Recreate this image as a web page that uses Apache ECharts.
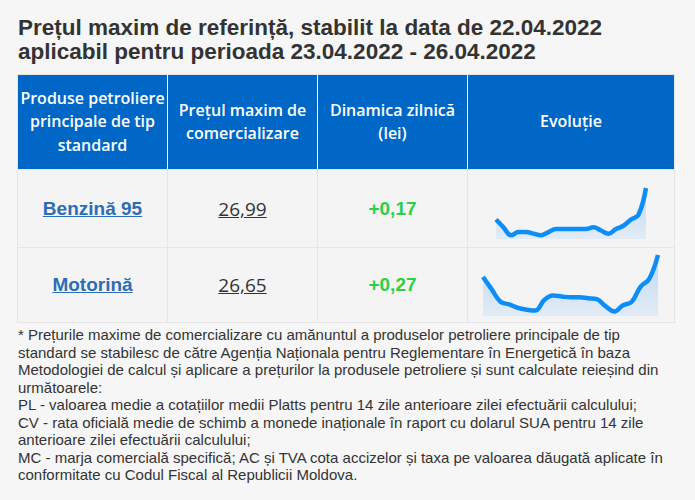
<!DOCTYPE html>
<html>
<head>
<meta charset="utf-8">
<script src="https://cdn.jsdelivr.net/npm/echarts@6/dist/echarts.min.js"></script>
<style>
  html, body { margin: 0; padding: 0; background: #f6f6f6; }
  body { width: 695px; height: 500px; position: relative; overflow: hidden; font-family: "Liberation Sans", Arial, sans-serif; color: #333; }
  h1 { position: absolute; left: 18px; top: 16px; margin: 0; font-size: 22.5px; line-height: 24px; font-weight: bold; color: #333; }
  table { position: absolute; left: 17px; top: 74px; border-collapse: collapse; table-layout: fixed; }
  th { background: #0067c7; color: #fff; font-family: "Open Sans", sans-serif; font-weight: 600; font-size: 16px; line-height: 23.5px; height: 94px; padding: 0 2px; border: 1px solid #e6e6e6; border-left-color: #fff; border-right-color: #fff; text-align: center; vertical-align: middle; }
  th:first-child { border-left-color: #e6e6e6; }
  th:last-child { border-right-color: #e6e6e6; }
  td { background: #f4f4f4; border: 1px solid #e6e6e6; text-align: center; vertical-align: middle; padding: 0; }
  .name { font-family: "Liberation Sans", Arial, sans-serif; font-weight: bold; font-size: 19px; color: #2d6db5; text-decoration: underline; }
  .price { font-family: "Open Sans", sans-serif; font-size: 19px; color: #333; text-decoration: underline; }
  .delta { font-family: "Liberation Sans", Arial, sans-serif; font-weight: bold; font-size: 19px; color: #2bcf45; }
  .note { position: absolute; left: 18px; top: 326px; width: 660px; font-size: 15px; line-height: 17.5px; color: #333; }
  .spark { position: absolute; }
</style>
</head>
<body>
<h1>Prețul maxim de referință, stabilit la data de 22.04.2022<br>aplicabil pentru perioada 23.04.2022 - 26.04.2022</h1>
<table id="tbl">
  <tr>
    <th style="width:145px">Produse petroliere principale de tip standard</th>
    <th style="width:145px">Prețul maxim de comercializare</th>
    <th style="width:145px">Dinamica zilnică (lei)</th>
    <th style="width:202px">Evoluție</th>
  </tr>
</table>
<div class="note">* Prețurile maxime de comercializare cu amănuntul a produselor petroliere principale de tip standard se stabilesc de către Agenția Naționala pentru Reglementare în Energetică în baza Metodologiei de calcul și aplicare a prețurilor la produsele petroliere și sunt calculate reieșind din următoarele:<br>PL - valoarea medie a cotațiilor medii Platts pentru 14 zile anterioare zilei efectuării calculului;<br>CV - rata oficială medie de schimb a monede inaționale în raport cu dolarul SUA pentru 14 zile anterioare zilei efectuării calculului;<br>MC - marja comercială specifică; AC și TVA cota accizelor și taxa pe valoarea dăugată aplicate în conformitate cu Codul Fiscal al Republicii Moldova.</div>
<div id="spark0" class="spark" style="left:492px; top:184px; width:158px; height:57px"></div>
<div id="spark1" class="spark" style="left:479px; top:251px; width:183px; height:67px"></div>
<script>
// products shown in the table
const products = ["Benzină 95", "Motorină"];
const maxPrices = ["26,99", "26,65"];
const dailyChange = ["+0,17", "+0,27"];
const rowHeights = [78, 75];

// price evolution for the sparklines (lei)
const benzinaHistory = [26.79, 26.74, 26.69, 26.71, 26.71, 26.70, 26.69, 26.71, 26.73, 26.73, 26.73,
  26.73, 26.73, 26.74, 26.72, 26.70, 26.73, 26.75, 26.79, 26.82, 26.99];
const motorinaHistory = [26.40, 26.26, 26.12, 26.09, 26.05, 26.03, 26.02, 26.14, 26.19, 26.18, 26.17,
  26.17, 26.16, 26.15, 26.07, 26.01, 26.08, 26.12, 26.29, 26.38, 26.65];
const histories = [benzinaHistory, motorinaHistory];

const tbl = document.getElementById("tbl");
products.forEach((p, i) => {
  const tr = document.createElement("tr");
  tr.innerHTML =
    '<td style="height:' + (rowHeights[i] - 1) + 'px"><span class="name">' + p + "</span></td>" +
    '<td><span class="price">' + maxPrices[i] + "</span></td>" +
    '<td><span class="delta">' + dailyChange[i] + "</span></td>" +
    "<td></td>";
  tbl.appendChild(tr);
});

histories.forEach((data, i) => {
  const chart = echarts.init(document.getElementById("spark" + i));
  chart.setOption({
    animation: false,
    grid: { left: 4, right: 4, top: 4, bottom: 2 },
    xAxis: { type: "category", show: false, boundaryGap: false, data: data.map((_, k) => k) },
    yAxis: {
      type: "value",
      show: false,
      // a little room under the lowest point, like the original sparkline
      min: (v) => v.min - (v.max - v.min) * 0.08,
      max: "dataMax",
    },
    series: [
      {
        type: "line",
        data: data,
        smooth: 0.4,
        symbol: "none",
        clip: false,
        lineStyle: { color: "#0d8ef7", width: 4.5 },
        areaStyle: {
          color: new echarts.graphic.LinearGradient(0, 0, 0, 1, [
            { offset: 0, color: "rgba(30,144,255,0.36)" },
            { offset: 1, color: "rgba(30,144,255,0.12)" },
          ]),
        },
      },
    ],
  });
});
</script>
</body>
</html>
